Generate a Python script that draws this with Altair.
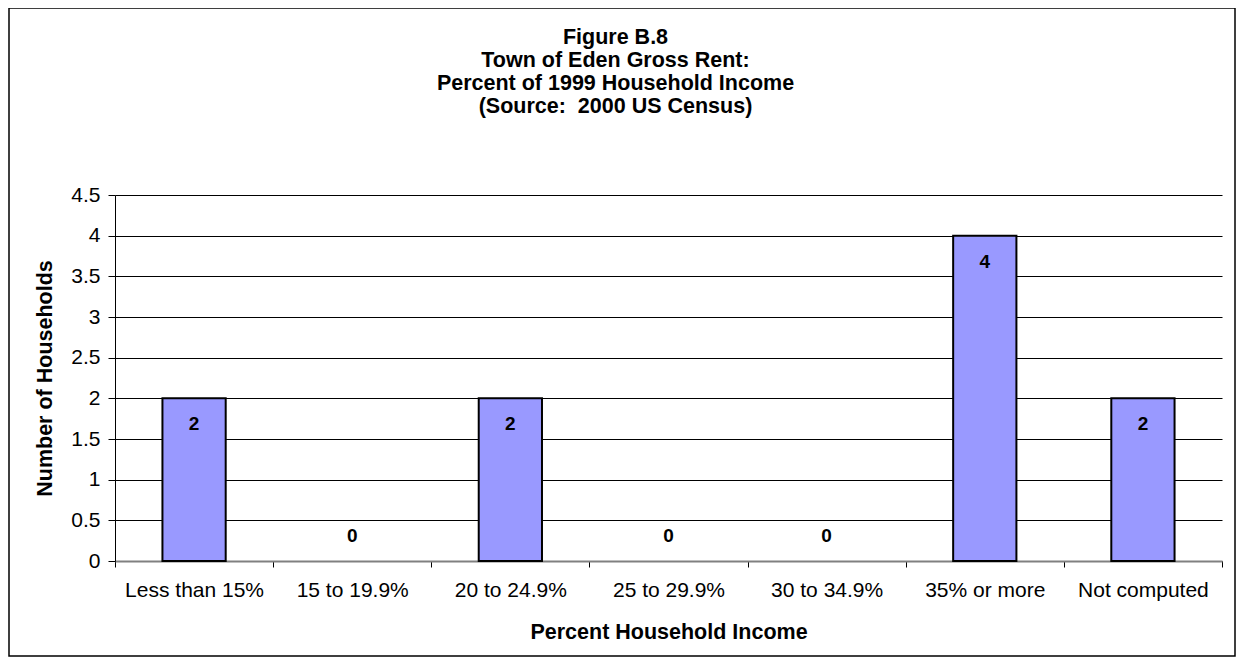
import altair as alt
import pandas as pd

categories = ["Less than 15%", "15 to 19.9%", "20 to 24.9%", "25 to 29.9%",
              "30 to 34.9%", "35% or more", "Not computed"]
households = [2, 0, 2, 0, 0, 4, 2]
title_lines = ["Figure B.8", "Town of Eden Gross Rent:",
               "Percent of 1999 Household Income",
               "(Source:\u00a0 2000 US Census)"]

df = pd.DataFrame({"cat": categories, "val": households})

FONT = "Liberation Sans"

x_enc = alt.X("cat:N", sort=categories,
              scale=alt.Scale(paddingInner=0, paddingOuter=0),
              axis=alt.Axis(title="Percent Household Income", labelAngle=0,
                            tickBand="extent", tickSize=6, tickColor="#000000",
                            domainColor="#808080", domainWidth=2,
                            labelFontSize=21, labelColor="#000000",
                            labelPadding=12, titleFontSize=21.5,
                            titleFontWeight="bold", titlePadding=21,
                            titleColor="#000000"))
y_enc = alt.Y("val:Q",
              scale=alt.Scale(domain=[0, 4.5]),
              axis=alt.Axis(title="Number of Households",
                            values=[0, 0.5, 1, 1.5, 2, 2.5, 3, 3.5, 4, 4.5],
                            format="~g", tickSize=7, tickColor="#000000",
                            domainColor="#000000", domainWidth=1,
                            grid=True, gridColor="#000000", gridWidth=1,
                            labelFontSize=21, labelColor="#000000",
                            labelPadding=8, titleFontSize=21.5,
                            titleFontWeight="bold", titlePadding=14,
                            titleColor="#000000"))

base = alt.Chart(df)

bars = base.transform_filter("datum.val > 0").mark_bar(
    color="#9999FF", stroke="#000000", strokeWidth=2,
    width=alt.RelativeBandSize(0.4)).encode(x=x_enc, y=y_enc)

labels_pos = base.transform_filter("datum.val > 0").mark_text(
    fontSize=19, fontWeight="bold", font=FONT, color="#000000",
    baseline="middle", dy=26).encode(
    x=alt.X("cat:N", sort=categories), y=alt.Y("val:Q"), text="val:Q")

labels_zero = base.transform_filter("datum.val == 0").mark_text(
    fontSize=19, fontWeight="bold", font=FONT, color="#000000",
    baseline="middle", dy=-25).encode(
    x=alt.X("cat:N", sort=categories), y=alt.Y("val:Q"), text="val:Q")

border = alt.Chart(pd.DataFrame({"a": [0]})).mark_rect(
    fill=None, stroke="#000000", strokeWidth=1.5, clip=False).encode(
    x=alt.value(-106), x2=alt.value(1120),
    y=alt.value(-187), y2=alt.value(461))

chart = alt.layer(border, bars, labels_pos, labels_zero).properties(
    width=1107, height=366,
    title=alt.TitleParams(text=title_lines, fontSize=21.5, fontWeight="bold",
                          font=FONT, color="#000000", lineHeight=23,
                          anchor="middle", frame="group", dx=-53, offset=-110),
    autosize=alt.AutoSizeParams(type="none"),
    padding={"left": 107, "top": 187, "right": 15, "bottom": 96},
).configure(font=FONT).configure_axis(labelFont=FONT, titleFont=FONT
).configure_view(stroke=None)

chart.save("out.html", embed_options={"renderer": "svg", "actions": False})
